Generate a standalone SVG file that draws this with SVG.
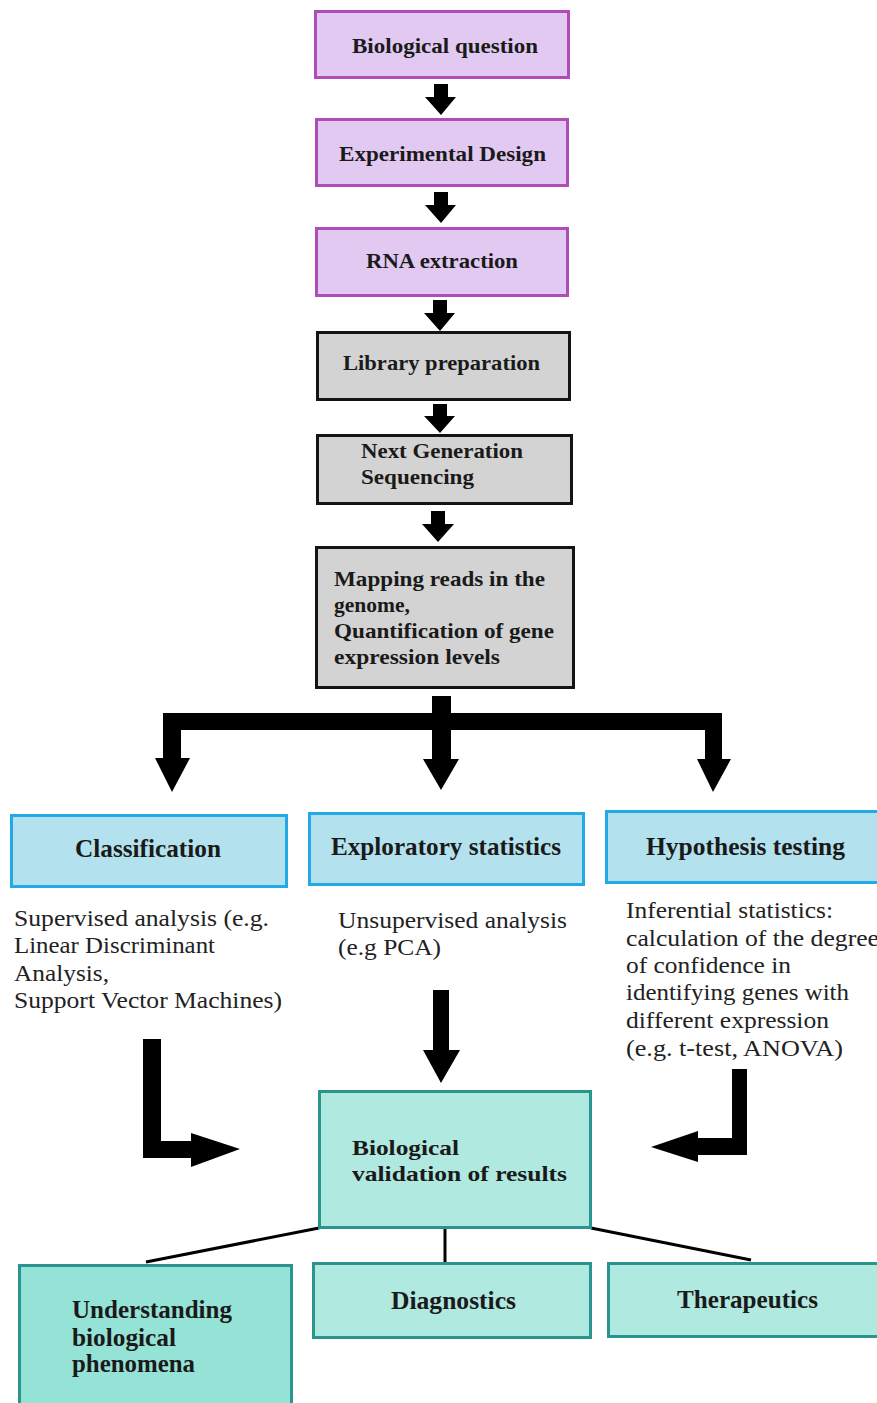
<svg xmlns="http://www.w3.org/2000/svg" width="877" height="1403" viewBox="0 0 877 1403">
<style>
.bg{fill:#ffffff}
.purple{fill:#e1c9f2;stroke:#b04cb8;stroke-width:3}
.gray{fill:#d3d3d3;stroke:#141414;stroke-width:3}
.blue{fill:#b3e2ee;stroke:#22a9e6;stroke-width:3}
.teal{fill:#b0e9e0;stroke:#2a958f;stroke-width:3}
.teal2{fill:#95e2d6;stroke:#2a958f;stroke-width:3}
.b{font-family:"Liberation Serif","Times New Roman",serif;font-weight:bold;font-size:22px;fill:#1a1a1a}
.bc{font-family:"Liberation Serif","Times New Roman",serif;font-weight:bold;font-size:25px;fill:#1a1a1a}
.r{font-family:"Liberation Serif","Times New Roman",serif;font-size:23px;fill:#222}
.arr{fill:#000}
.ln{stroke:#000;stroke-width:3;fill:none}
</style>
<rect class="bg" x="0" y="0" width="877" height="1403"/>

<g id="connectors">
  <polygon class="arr" points="434,84 448,84 448,97 456,97 441,115 425,97 434,97"/>
  <polygon class="arr" points="434,192 448,192 448,205 456,205 441,223 425,205 434,205"/>
  <polygon class="arr" points="433,300 447,300 447,313 455,313 440,331 424,313 433,313"/>
  <polygon class="arr" points="433,404 447,404 447,416 455,416 440,433 424,416 433,416"/>
  <polygon class="arr" points="431,511 445,511 445,524 454,524 438,542 422,524 431,524"/>
  <polygon class="arr" points="432,696 451,696 451,713 722,713 722,759 731,759 713,792 697,759 705,759 705,730 451,730 451,759 459,759 441,790 423,759 432,759 432,730 181,730 181,758 190,758 172,792 155,758 163,758 163,713 432,713"/>
  <polygon class="arr" points="433,990 449,990 449,1050 460,1050 441,1083 423,1050 433,1050"/>
  <polygon class="arr" points="143,1039 161,1039 161,1141 191,1141 191,1133 240,1149 191,1167 191,1158 143,1158"/>
  <polygon class="arr" points="732,1069 747,1069 747,1155 698,1155 698,1162 651,1147 698,1131 698,1138 732,1138"/>
  <line class="ln" x1="319" y1="1228" x2="146" y2="1262"/>
  <line class="ln" x1="445" y1="1228" x2="445" y2="1263"/>
  <line class="ln" x1="591" y1="1228" x2="751" y2="1260"/>
</g>

<g id="n1"><rect class="purple" x="315.5" y="11.5" width="253" height="66"/><text class="b" x="352" y="53" textLength="186" lengthAdjust="spacingAndGlyphs">Biological question</text></g>
<g id="n2"><rect class="purple" x="316.5" y="119.5" width="251" height="66"/><text class="b" x="339" y="161" textLength="207" lengthAdjust="spacingAndGlyphs">Experimental Design</text></g>
<g id="n3"><rect class="purple" x="316.5" y="228.5" width="251" height="67"/><text class="b" x="366" y="268" textLength="152" lengthAdjust="spacingAndGlyphs">RNA extraction</text></g>
<g id="n4"><rect class="gray" x="317.5" y="332.5" width="252" height="67"/><text class="b" x="343" y="370" textLength="197" lengthAdjust="spacingAndGlyphs">Library preparation</text></g>
<g id="n5"><rect class="gray" x="317.5" y="435.5" width="254" height="68"/><text class="b" x="361" y="458" textLength="162" lengthAdjust="spacingAndGlyphs">Next Generation</text><text class="b" x="361" y="484" textLength="113" lengthAdjust="spacingAndGlyphs">Sequencing</text></g>
<g id="n6"><rect class="gray" x="316.5" y="547.5" width="257" height="140"/>
<text class="b" x="334" y="586" textLength="211" lengthAdjust="spacingAndGlyphs">Mapping reads in the</text>
<text class="b" x="334" y="612" textLength="76" lengthAdjust="spacingAndGlyphs">genome,</text>
<text class="b" x="334" y="638" textLength="220" lengthAdjust="spacingAndGlyphs">Quantification of gene</text>
<text class="b" x="334" y="664" textLength="166" lengthAdjust="spacingAndGlyphs">expression levels</text></g>

<g id="n7"><rect class="blue" x="11.5" y="815.5" width="275" height="71"/><text class="bc" x="75" y="857" textLength="146" lengthAdjust="spacingAndGlyphs">Classification</text></g>
<g id="n8"><rect class="blue" x="309.5" y="813.5" width="274" height="71"/><text class="bc" x="331" y="855" textLength="230" lengthAdjust="spacingAndGlyphs">Exploratory statistics</text></g>
<g id="n9"><rect class="blue" x="606.5" y="811.5" width="275" height="71"/><text class="bc" x="646" y="855" textLength="199" lengthAdjust="spacingAndGlyphs">Hypothesis testing</text></g>

<g id="t1">
<text class="r" x="14" y="926" textLength="255" lengthAdjust="spacingAndGlyphs">Supervised analysis (e.g.</text>
<text class="r" x="14" y="953" textLength="201" lengthAdjust="spacingAndGlyphs">Linear Discriminant</text>
<text class="r" x="14" y="981" textLength="95" lengthAdjust="spacingAndGlyphs">Analysis,</text>
<text class="r" x="14" y="1008" textLength="268" lengthAdjust="spacingAndGlyphs">Support Vector Machines)</text>
</g>
<g id="t2">
<text class="r" x="338" y="928" textLength="229" lengthAdjust="spacingAndGlyphs">Unsupervised analysis</text>
<text class="r" x="338" y="955" textLength="103" lengthAdjust="spacingAndGlyphs">(e.g PCA)</text>
</g>
<g id="t3">
<text class="r" x="626" y="918" textLength="207" lengthAdjust="spacingAndGlyphs">Inferential statistics:</text>
<text class="r" x="626" y="946" textLength="253" lengthAdjust="spacingAndGlyphs">calculation of the degree</text>
<text class="r" x="626" y="973" textLength="165" lengthAdjust="spacingAndGlyphs">of confidence in</text>
<text class="r" x="626" y="1000" textLength="223" lengthAdjust="spacingAndGlyphs">identifying genes with</text>
<text class="r" x="626" y="1028" textLength="203" lengthAdjust="spacingAndGlyphs">different expression</text>
<text class="r" x="626" y="1056" textLength="217" lengthAdjust="spacingAndGlyphs">(e.g. t-test, ANOVA)</text>
</g>

<g id="n10"><rect class="teal" x="319.5" y="1091.5" width="271" height="136"/>
<text class="b" x="352" y="1155" textLength="107" lengthAdjust="spacingAndGlyphs">Biological</text>
<text class="b" x="352" y="1181" textLength="215" lengthAdjust="spacingAndGlyphs">validation of results</text></g>

<g id="n11"><rect class="teal2" x="19.5" y="1265.5" width="272" height="142"/>
<text class="bc" x="72" y="1318" textLength="160" lengthAdjust="spacingAndGlyphs">Understanding</text>
<text class="bc" x="72" y="1346" textLength="104" lengthAdjust="spacingAndGlyphs">biological</text>
<text class="bc" x="72" y="1372" textLength="123" lengthAdjust="spacingAndGlyphs">phenomena</text></g>
<g id="n12"><rect class="teal" x="313.5" y="1263.5" width="277" height="74"/><text class="bc" x="391" y="1309" textLength="125" lengthAdjust="spacingAndGlyphs">Diagnostics</text></g>
<g id="n13"><rect class="teal" x="608.5" y="1263.5" width="273" height="73"/><text class="bc" x="677" y="1308" textLength="141" lengthAdjust="spacingAndGlyphs">Therapeutics</text></g>
</svg>
